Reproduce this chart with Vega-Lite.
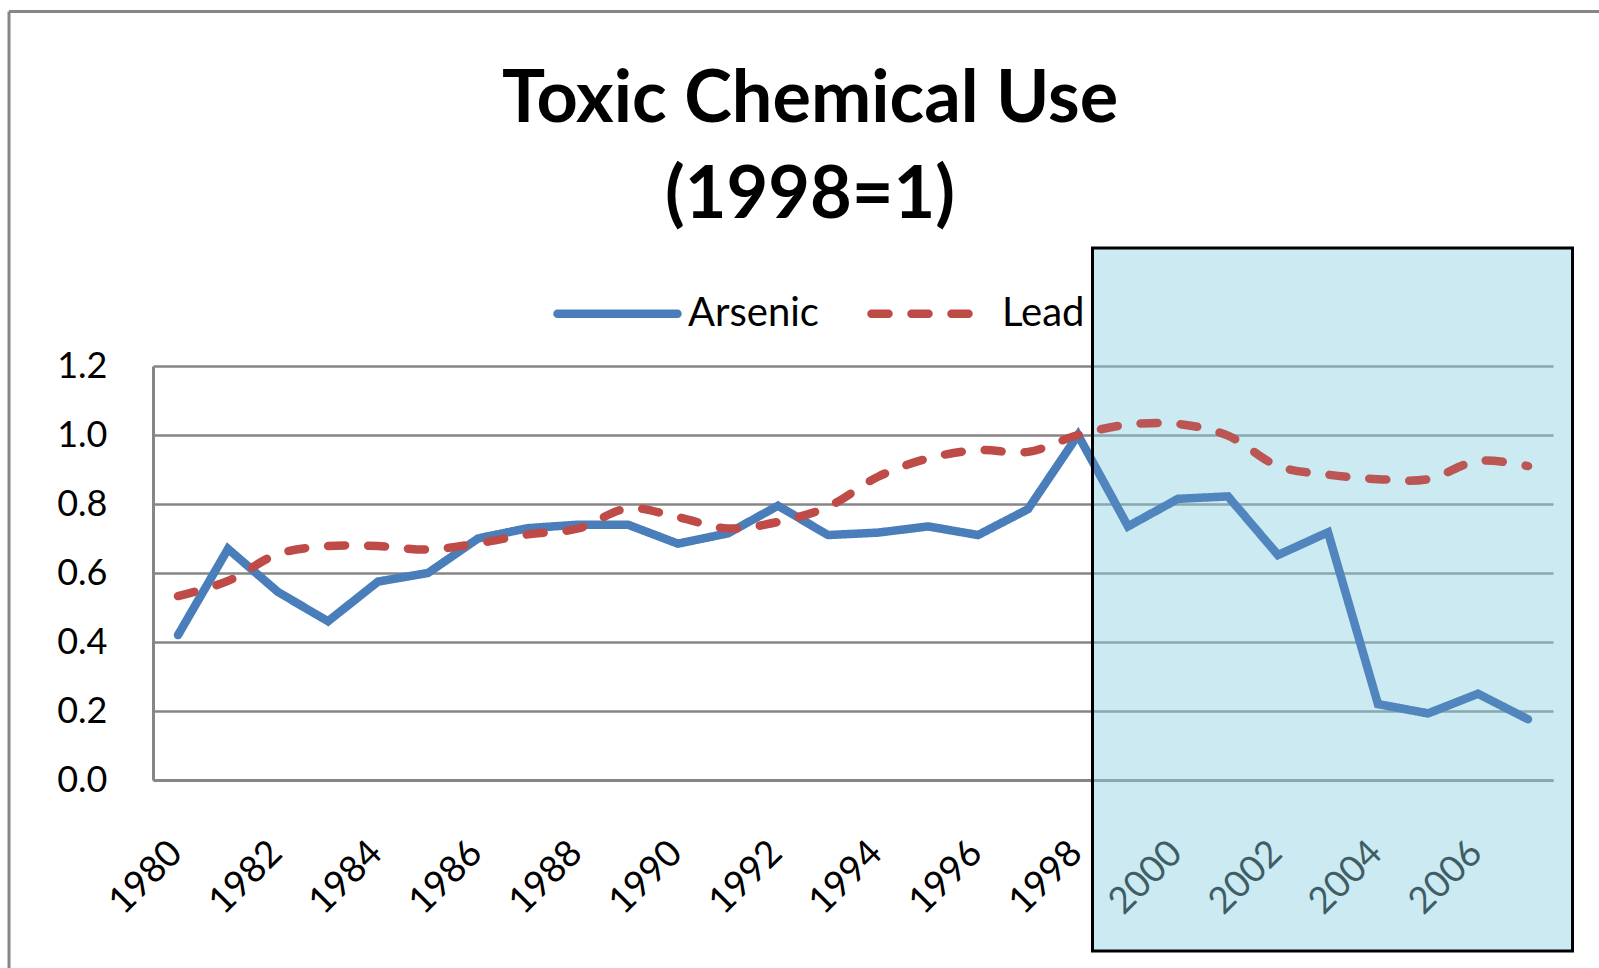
{
  "$schema": "https://vega.github.io/schema/vega-lite/v6.json",
  "width": 1400,
  "height": 414,
  "autosize": {"type": "none"},
  "padding": {"left": 153, "top": 366, "right": 46, "bottom": 188},
  "background": "white",
  "config": {"view": {"stroke": null}, "font": "Lato"},
  "title": {
    "text": ["Toxic Chemical Use", "(1998=1)"],
    "font": "Lato",
    "fontSize": 72,
    "fontWeight": "bold",
    "lineHeight": 96,
    "color": "black",
    "anchor": "middle",
    "frame": "group",
    "offset": 0,
    "dx": -43,
    "dy": 223
  },
  "datasets": {
    "series": [
      {"year": 1980, "series": "Arsenic", "value": 0.42},
      {"year": 1981, "series": "Arsenic", "value": 0.67},
      {"year": 1982, "series": "Arsenic", "value": 0.545},
      {"year": 1983, "series": "Arsenic", "value": 0.46},
      {"year": 1984, "series": "Arsenic", "value": 0.575},
      {"year": 1985, "series": "Arsenic", "value": 0.6},
      {"year": 1986, "series": "Arsenic", "value": 0.7},
      {"year": 1987, "series": "Arsenic", "value": 0.73},
      {"year": 1988, "series": "Arsenic", "value": 0.74},
      {"year": 1989, "series": "Arsenic", "value": 0.74},
      {"year": 1990, "series": "Arsenic", "value": 0.685},
      {"year": 1991, "series": "Arsenic", "value": 0.715},
      {"year": 1992, "series": "Arsenic", "value": 0.795},
      {"year": 1993, "series": "Arsenic", "value": 0.71},
      {"year": 1994, "series": "Arsenic", "value": 0.717},
      {"year": 1995, "series": "Arsenic", "value": 0.735},
      {"year": 1996, "series": "Arsenic", "value": 0.71},
      {"year": 1997, "series": "Arsenic", "value": 0.785},
      {"year": 1998, "series": "Arsenic", "value": 1.0},
      {"year": 1999, "series": "Arsenic", "value": 0.735},
      {"year": 2000, "series": "Arsenic", "value": 0.815},
      {"year": 2001, "series": "Arsenic", "value": 0.822},
      {"year": 2002, "series": "Arsenic", "value": 0.652},
      {"year": 2003, "series": "Arsenic", "value": 0.718},
      {"year": 2004, "series": "Arsenic", "value": 0.22},
      {"year": 2005, "series": "Arsenic", "value": 0.193},
      {"year": 2006, "series": "Arsenic", "value": 0.25},
      {"year": 2007, "series": "Arsenic", "value": 0.176},
      {"year": 1980, "series": "Lead", "value": 0.533},
      {"year": 1981, "series": "Lead", "value": 0.577},
      {"year": 1982, "series": "Lead", "value": 0.655},
      {"year": 1983, "series": "Lead", "value": 0.678},
      {"year": 1984, "series": "Lead", "value": 0.678},
      {"year": 1985, "series": "Lead", "value": 0.668},
      {"year": 1986, "series": "Lead", "value": 0.686},
      {"year": 1987, "series": "Lead", "value": 0.712},
      {"year": 1988, "series": "Lead", "value": 0.729},
      {"year": 1989, "series": "Lead", "value": 0.787},
      {"year": 1990, "series": "Lead", "value": 0.762},
      {"year": 1991, "series": "Lead", "value": 0.729},
      {"year": 1992, "series": "Lead", "value": 0.748},
      {"year": 1993, "series": "Lead", "value": 0.792},
      {"year": 1994, "series": "Lead", "value": 0.879},
      {"year": 1995, "series": "Lead", "value": 0.932},
      {"year": 1996, "series": "Lead", "value": 0.956},
      {"year": 1997, "series": "Lead", "value": 0.951},
      {"year": 1998, "series": "Lead", "value": 1.0},
      {"year": 1999, "series": "Lead", "value": 1.03},
      {"year": 2000, "series": "Lead", "value": 1.032},
      {"year": 2001, "series": "Lead", "value": 0.998},
      {"year": 2002, "series": "Lead", "value": 0.91},
      {"year": 2003, "series": "Lead", "value": 0.885},
      {"year": 2004, "series": "Lead", "value": 0.872},
      {"year": 2005, "series": "Lead", "value": 0.872},
      {"year": 2006, "series": "Lead", "value": 0.925},
      {"year": 2007, "series": "Lead", "value": 0.91}
    ],
    "box": [{"x1": 1998.29, "x2": 2007.89, "y1": -0.4957, "y2": 1.542}],
    "frame": [
      {"x1": 1976.62, "x2": 2012, "y1": 2.2275, "y2": 2.2275},
      {"x1": 1976.62, "x2": 1976.62, "y1": 2.2275, "y2": -0.8}
    ]
  },
  "layer": [
    {
      "data": {"name": "box"},
      "mark": {"type": "rect", "fill": "#8CCFE0", "fillOpacity": 0.4, "clip": false},
      "encoding": {
        "x": {"field": "x1", "type": "quantitative",
          "scale": {"domain": [1979.5, 2007.5], "nice": false, "zero": false},
          "axis": {"title": null, "values": [1980, 1982, 1984, 1986, 1988, 1990, 1992, 1994, 1996, 1998, 2000, 2002, 2004, 2006],
            "format": "d", "grid": false, "ticks": false, "tickSize": 0, "domain": true, "domainColor": "#868686", "domainWidth": 3,
            "labelAngle": -45, "labelAlign": "right", "labelBaseline": "middle", "labelPadding": 67, "labelOffset": -2,
            "labelFont": "Lato", "labelFontSize": 37, "labelColor": "black", "labelOverlap": false, "labelFlush": false, "labelBound": false}},
        "x2": {"field": "x2"},
        "y": {"field": "y1", "type": "quantitative",
          "scale": {"domain": [0, 1.2], "nice": false, "zero": false},
          "axis": {"title": null, "values": [0, 0.2, 0.4, 0.6, 0.8, 1.0, 1.2], "format": ".1f",
            "grid": true, "gridColor": "#868686", "gridWidth": 2.5, "ticks": false, "tickSize": 0,
            "domain": true, "domainColor": "#868686", "domainWidth": 3,
            "labelPadding": 46, "labelFont": "Lato", "labelFontSize": 36, "labelColor": "black", "labelOverlap": false, "labelFlush": false}},
        "y2": {"field": "y2"}
      }
    },
    {
      "data": {"name": "series"},
      "transform": [{"filter": "datum.series === 'Arsenic'"}],
      "mark": {"type": "line", "strokeWidth": 8.5, "strokeCap": "round", "strokeJoin": "miter"},
      "encoding": {
        "x": {"field": "year", "type": "quantitative", "scale": {"domain": [1979.5, 2007.5], "nice": false, "zero": false}},
        "y": {"field": "value", "type": "quantitative", "scale": {"domain": [0, 1.2], "nice": false, "zero": false}},
        "color": {"field": "series", "type": "nominal",
          "scale": {"domain": ["Arsenic", "Lead"], "range": ["#4A7EBB", "#BE4B48"]},
          "legend": {"title": null, "orient": "none", "legendX": 400, "legendY": -117, "direction": "horizontal",
            "symbolType": "stroke", "symbolSize": 14400, "symbolStrokeWidth": 8.5, "labelFont": "Lato", "labelFontSize": 40,
            "labelColor": "black", "labelOffset": 6, "columnPadding": 35, "padding": 0,
            "encode": {"symbols": {"update": {"strokeCap": {"value": "round"}}}}}},
        "strokeDash": {"field": "series", "type": "nominal",
          "scale": {"domain": ["Arsenic", "Lead"], "range": [[1, 0], [17, 23]]},
          "legend": {"title": null, "orient": "none", "legendX": 400, "legendY": -117, "direction": "horizontal",
            "symbolType": "stroke", "symbolSize": 14400, "symbolStrokeWidth": 8.5, "labelFont": "Lato", "labelFontSize": 40,
            "labelColor": "black", "labelOffset": 6, "columnPadding": 35, "padding": 0,
            "encode": {"symbols": {"update": {"strokeCap": {"value": "round"}}}}}}
      }
    },
    {
      "data": {"name": "series"},
      "transform": [{"filter": "datum.series === 'Lead'"}],
      "mark": {"type": "line", "strokeWidth": 8.5, "strokeCap": "round", "strokeJoin": "round", "interpolate": "catmull-rom"},
      "encoding": {
        "x": {"field": "year", "type": "quantitative", "scale": {"domain": [1979.5, 2007.5], "nice": false, "zero": false}},
        "y": {"field": "value", "type": "quantitative", "scale": {"domain": [0, 1.2], "nice": false, "zero": false}},
        "color": {"field": "series", "type": "nominal"},
        "strokeDash": {"field": "series", "type": "nominal"}
      }
    },
    {
      "data": {"name": "box"},
      "mark": {"type": "rect", "fill": "#9ED6E4", "fillOpacity": 0.08, "stroke": "black", "strokeWidth": 3, "clip": false},
      "encoding": {
        "x": {"field": "x1", "type": "quantitative", "scale": {"domain": [1979.5, 2007.5], "nice": false, "zero": false}},
        "x2": {"field": "x2"},
        "y": {"field": "y1", "type": "quantitative", "scale": {"domain": [0, 1.2], "nice": false, "zero": false}},
        "y2": {"field": "y2"}
      }
    },
    {
      "data": {"name": "frame"},
      "mark": {"type": "rule", "stroke": "#868686", "strokeWidth": 3, "clip": false},
      "encoding": {
        "x": {"field": "x1", "type": "quantitative", "scale": {"domain": [1979.5, 2007.5], "nice": false, "zero": false}},
        "x2": {"field": "x2"},
        "y": {"field": "y1", "type": "quantitative", "scale": {"domain": [0, 1.2], "nice": false, "zero": false}},
        "y2": {"field": "y2"}
      }
    }
  ]
}
